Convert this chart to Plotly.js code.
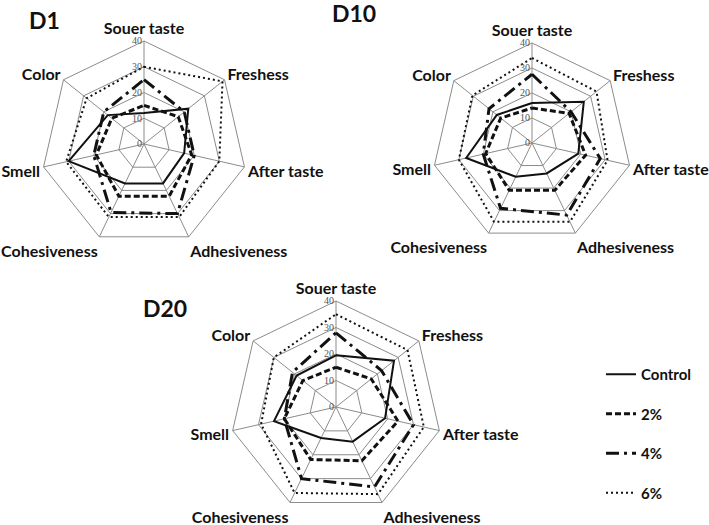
<!DOCTYPE html>
<html>
<head>
<meta charset="utf-8">
<script src="https://cdn.plot.ly/plotly-3.0.1.min.js"></script>
<style>html,body{margin:0;padding:0;background:#fff;}#chart{width:709px;height:525px;}</style>
</head>
<body>
<div id="chart"></div>
<script>
// Attributes (clockwise from top)
const attributes = ["Souer taste", "Freshess", "After taste", "Adhesiveness", "Cohesiveness", "Smell", "Color"];
const seriesNames = ["Control", "2%", "4%", "6%"];
const radialTicks = [0, 10, 20, 30, 40];

// D1 values
const d1Control = [12, 22, 16, 17, 17, 30, 18];
const d1P2      = [15, 17, 19, 22.5, 22.5, 19, 16];
const d1P4      = [25, 20, 20, 30, 29.5, 20, 20];
const d1P6      = [30, 39, 30, 31.5, 31.5, 31, 28.5];

// D10 values
const d10Control = [16, 26.5, 19, 13.5, 15, 27, 18];
const d10P2      = [14, 19, 22, 21, 21, 19, 16];
const d10P4      = [27.5, 20, 28, 32, 29, 20, 22];
const d10P6      = [34, 33, 31, 35, 35, 30, 30.5];

// D20 values
const d20Control = [19.5, 28, 19, 14.5, 13, 24, 19];
const d20P2      = [15, 17, 24, 22.5, 22, 20, 16];
const d20P4      = [28, 22, 30, 33.5, 30, 20, 21];
const d20P6      = [35, 34.5, 34, 36.5, 36, 29, 30];

const panels = [
  {sub: "polar",  data: [d1Control, d1P2, d1P4, d1P6]},
  {sub: "polar2", data: [d10Control, d10P2, d10P4, d10P6]},
  {sub: "polar3", data: [d20Control, d20P2, d20P4, d20P6]}
];

const styles = [
  {dash: "solid", width: 2},
  {dash: "6px,3px", width: 3},
  {dash: "13px,5px,3px,5px", width: 3},
  {dash: "2px,3px", width: 2}
];

const traces = [];
panels.forEach((p, pi) => {
  p.data.forEach((vals, si) => {
    traces.push({
      type: "scatterpolar",
      mode: "lines",
      subplot: p.sub,
      r: vals.concat([vals[0]]),
      theta: attributes.concat([attributes[0]]),
      name: seriesNames[si],
      legendgroup: seriesNames[si],
      showlegend: pi === 0,
      line: {color: "#111", width: styles[si].width, dash: styles[si].dash, shape: "linear"},
      hoverinfo: "skip"
    });
  });
});

const W = 709, H = 525;
function dom(cx, cy, R) {
  return {x: [(cx - R) / W, (cx + R) / W], y: [(H - cy - R) / H, (H - cy + R) / H]};
}

function polarLayout(d) {
  return {
    domain: d,
    bgcolor: "rgba(0,0,0,0)",
    gridshape: "linear",
    angularaxis: {
      direction: "clockwise",
      rotation: 90,
      categoryorder: "array",
      categoryarray: attributes,
      showgrid: true,
      gridcolor: "#8c8c8c",
      gridwidth: 1,
      showline: true,
      linecolor: "#8c8c8c",
      linewidth: 1,
      ticks: "",
      tickfont: {family: "Lato", size: 16, color: "#111", weight: "bold"}
    },
    radialaxis: {
      range: [0, 40],
      tickvals: radialTicks,
      ticktext: radialTicks.map(String),
      angle: 90,
      tickangle: 90,
      side: "counterclockwise",
      showline: false,
      showgrid: true,
      gridcolor: "#8c8c8c",
      gridwidth: 1,
      ticks: "",
      tickfont: {family: "Liberation Serif", size: 10, color: "#555"}
    }
  };
}

const titleFont = {family: "Lato", size: 23, color: "#111", weight: "bold"};

function title(text, px, py) {
  return {text: text, x: px / W, y: 1 - py / H, xref: "paper", yref: "paper",
          xanchor: "center", yanchor: "middle", showarrow: false, font: titleFont};
}

const layout = {
  width: W,
  height: H,
  margin: {l: 0, r: 0, t: 0, b: 0},
  paper_bgcolor: "#fff",
  showlegend: true,
  polar: polarLayout(dom(144, 144, 103)),
  polar2: polarLayout(dom(532, 143, 100)),
  polar3: polarLayout(dom(336, 407, 106)),
  legend: {
    x: 601 / W, xanchor: "left",
    y: 1 - 358 / H, yanchor: "top",
    font: {family: "Lato", size: 15, color: "#111", weight: "bold"},
    tracegroupgap: 17,
    bgcolor: "rgba(0,0,0,0)",
    itemwidth: 30
  },
  annotations: [
    title("D1", 44, 20),
    title("D10", 354, 13),
    title("D20", 165, 308)
  ]
};

Plotly.newPlot("chart", traces, layout, {displayModeBar: false, staticPlot: true});
</script>
</body>
</html>
